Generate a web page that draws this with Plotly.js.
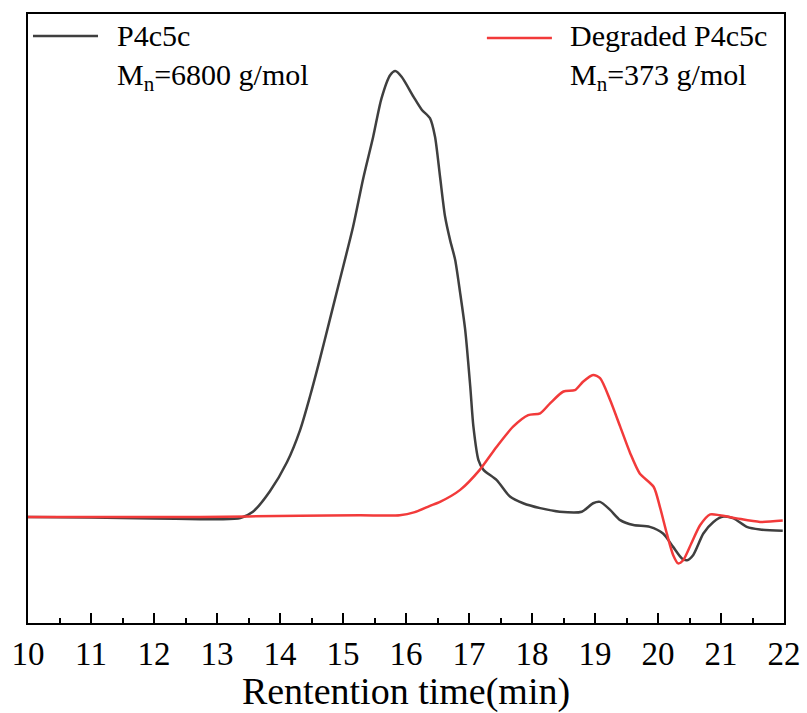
<!DOCTYPE html>
<html>
<head>
<meta charset="utf-8">
<script src="https://cdn.plot.ly/plotly-3.0.1.min.js"></script>
<style>html,body{margin:0;padding:0;background:#fff;}#chart{width:807px;height:713px;}</style>
</head>
<body>
<div id="chart"></div>
<script>
// Retention time (min) and detector signal (arbitrary units)
var timeP4c5c = [10.00, 11.00, 12.00, 12.73, 13.05, 13.37, 13.57, 13.84, 14.11, 14.32, 14.48, 14.63, 14.79, 14.95, 15.16, 15.32, 15.48, 15.61, 15.75, 15.83, 15.93, 16.12, 16.25, 16.38, 16.46, 16.54, 16.62, 16.70, 16.78, 16.86, 16.94, 17.02, 17.07, 17.15, 17.23, 17.44, 17.65, 17.86, 18.13, 18.44, 18.79, 18.97, 19.08, 19.24, 19.40, 19.61, 19.87, 20.08, 20.24, 20.38, 20.46, 20.56, 20.72, 20.88, 21.04, 21.20, 21.41, 21.62, 21.98];
var signalP4c5c = [0.0, -0.1, -0.3, -0.5, -0.5, -0.2, 1.2, 5.8, 12.3, 19.6, 27.3, 35.3, 44.3, 53.3, 65.2, 76.0, 85.5, 94.0, 99.3, 100.2, 98.9, 94.4, 91.5, 89.6, 85.5, 76.5, 67.5, 62.2, 57.8, 50.3, 42.0, 29.3, 20.3, 12.8, 10.6, 8.3, 4.6, 3.1, 2.0, 1.2, 1.2, 3.1, 3.4, 1.6, -0.7, -1.8, -2.2, -3.7, -6.7, -9.3, -9.7, -8.5, -3.7, -1.1, 0.1, -0.3, -2.2, -2.8, -3.1];

var timeDegraded = [10.00, 11.14, 12.73, 14.32, 15.27, 15.90, 16.14, 16.38, 16.54, 16.86, 17.17, 17.44, 17.70, 17.94, 18.13, 18.29, 18.50, 18.68, 18.81, 18.97, 19.08, 19.24, 19.40, 19.56, 19.71, 19.93, 20.03, 20.14, 20.24, 20.32, 20.40, 20.53, 20.67, 20.83, 20.98, 21.25, 21.62, 21.98];
var signalDegraded = [0.0, 0.0, 0.0, 0.3, 0.4, 0.4, 1.1, 2.5, 3.4, 6.1, 10.6, 15.8, 20.3, 22.9, 23.3, 25.6, 28.2, 28.5, 30.4, 31.9, 31.2, 26.3, 20.3, 14.3, 9.8, 6.8, 2.3, -3.7, -8.5, -10.4, -9.7, -5.9, -1.8, 0.6, 0.4, -0.3, -1.1, -0.8];

var seriesNames = ["P4c5c", "Degraded P4c5c"];
var mnLabels = ["M<sub>n</sub>=6800 g/mol", "M<sub>n</sub>=373 g/mol"];
var xTickVals = [10, 11, 12, 13, 14, 15, 16, 17, 18, 19, 20, 21, 22];
var xTickText = ["10", "11", "12", "13", "14", "15", "16", "17", "18", "19", "20", "21", "22"];

var colBlack = "#3f3f3f";
var colRed = "#f23a3a";
var serif = "Times New Roman, DejaVu Serif, serif";

var traces = [
  {x: timeP4c5c, y: signalP4c5c, type: "scatter", mode: "lines", name: seriesNames[0],
   line: {color: colBlack, width: 2.5, shape: "spline", smoothing: 0.7}, showlegend: false},
  {x: timeDegraded, y: signalDegraded, type: "scatter", mode: "lines", name: seriesNames[1],
   line: {color: colRed, width: 2.5, shape: "spline", smoothing: 0.7}, showlegend: false}
];

var layout = {
  width: 807, height: 713,
  margin: {l: 28, r: 23, t: 14, b: 90},
  paper_bgcolor: "#ffffff", plot_bgcolor: "#ffffff",
  font: {family: serif, color: "#000"},
  showlegend: false,
  xaxis: {
    range: [10, 22], tickvals: xTickVals, ticktext: xTickText,
    ticks: "inside", ticklen: 10, tickwidth: 2, tickcolor: "#000",
    minor: {dtick: 0.5, ticks: "inside", ticklen: 5, tickwidth: 2, tickcolor: "#000"},
    showline: true, linewidth: 2, linecolor: "#000", mirror: true,
    showgrid: false, zeroline: false,
    tickfont: {family: serif, size: 33, color: "#000"},
    title: {text: "Rentention time(min)", font: {family: serif, size: 38, color: "#000"}, standoff: 4}
  },
  yaxis: {
    range: [-23.8, 113.0],
    showline: true, linewidth: 2, linecolor: "#000", mirror: true,
    showticklabels: false, ticks: "", showgrid: false, zeroline: false
  },
  shapes: [
    {type: "line", xref: "paper", yref: "paper", x0: 0.0066, x1: 0.0926, y0: 0.9639, y1: 0.9639,
     line: {color: colBlack, width: 2.5}},
    {type: "line", xref: "paper", yref: "paper", x0: 0.607, x1: 0.693, y0: 0.9606, y1: 0.9606,
     line: {color: colRed, width: 2.5}}
  ],
  annotations: [
    {xref: "paper", yref: "paper", x: 0.1151, y: 0.995, xanchor: "left", yanchor: "top", align: "left",
     showarrow: false, text: seriesNames[0] + "<br>" + mnLabels[0], font: {family: serif, size: 30, color: "#000"}},
    {xref: "paper", yref: "paper", x: 0.7143, y: 0.995, xanchor: "left", yanchor: "top", align: "left",
     showarrow: false, text: seriesNames[1] + "<br>" + mnLabels[1], font: {family: serif, size: 30, color: "#000"}}
  ]
};

Plotly.newPlot("chart", traces, layout, {displayModeBar: false, staticPlot: true});
</script>
</body>
</html>
